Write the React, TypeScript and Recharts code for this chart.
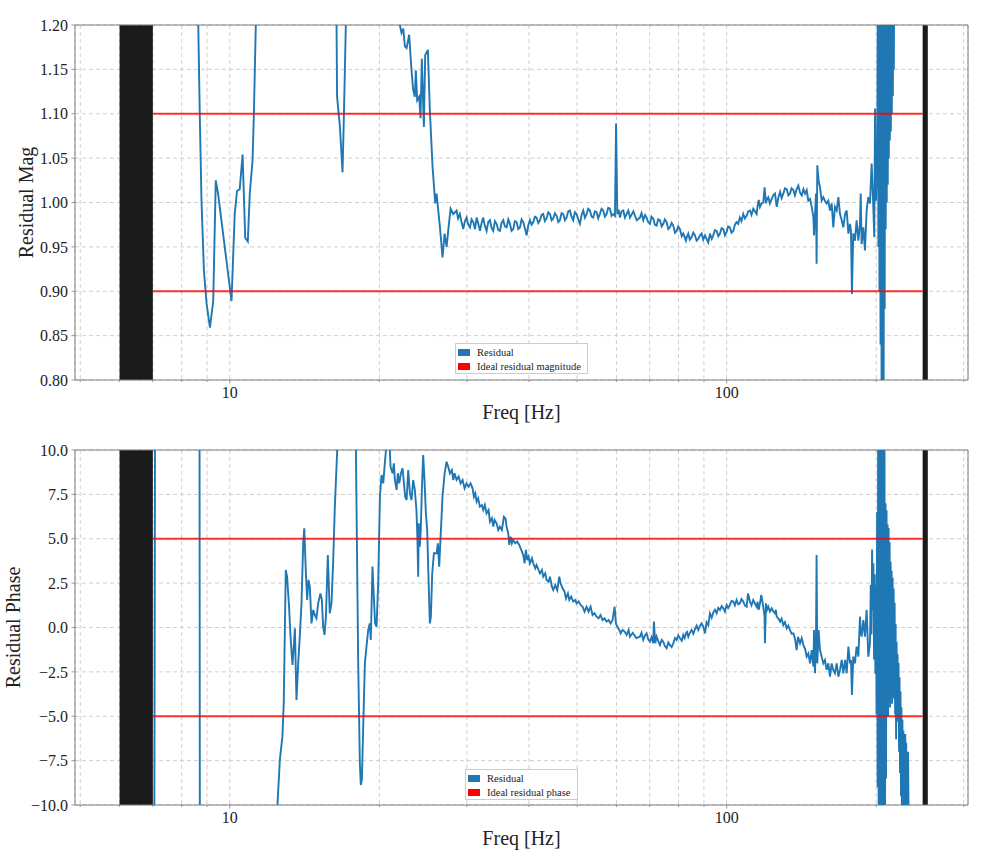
import React from 'react';
import { LineChart, Line, XAxis, YAxis, CartesianGrid, ReferenceLine, ReferenceArea } from 'recharts';

const FONT = '"Liberation Serif", "Times New Roman", serif';
const BLUE = '#1f77b4';
const GRAY = '#7f7f7f';

const freqTicks = [5, 6, 7, 8, 9, 10, 20, 30, 40, 50, 60, 70, 80, 90, 100, 200, 300];
const freqLabels = [10, 100];
const freqRange = [4.88, 306];
const magTicks = [0.8, 0.85, 0.9, 0.95, 1.0, 1.05, 1.1, 1.15, 1.2];
const phaseTicks = [-10, -7.5, -5, -2.5, 0, 2.5, 5, 7.5, 10];
const blankBands = [[6, 7], [248, 254]];
const limitSpan = [7, 248];
const magLimits = [0.9, 1.1];
const phaseLimits = [-5, 5];

// [freq Hz, residual magnitude]
const magLow = [
  [7.1, 1.9], [8.0, 1.7], [8.55, 1.35], [8.64, 1.2], [8.7, 1.1], [8.77, 1.002], [8.87, 0.923],
  [8.98, 0.886], [9.12, 0.859], [9.26, 0.889], [9.37, 1.025], [9.47, 1.01], [10.08, 0.889],
  [10.23, 0.987], [10.34, 1.013], [10.47, 1.015], [10.61, 1.054], [10.74, 0.96], [10.87, 0.956],
  [10.97, 1.01], [11.11, 1.047], [11.18, 1.1], [11.28, 1.2], [11.5, 1.45], [13.0, 1.8], [15.0, 1.6],
  [16.2, 1.35], [16.4, 1.2], [16.44, 1.119], [16.65, 1.087], [16.86, 1.034], [16.96, 1.093],
  [17.12, 1.2], [17.4, 1.4], [19.0, 1.6], [21.5, 1.3], [21.99, 1.2], [22.16, 1.191], [22.34, 1.196],
  [22.51, 1.176], [22.69, 1.174], [22.96, 1.189], [23.21, 1.149], [23.39, 1.127], [23.57, 1.119],
  [23.68, 1.149], [23.83, 1.115], [24.05, 1.119], [24.2, 1.095], [24.35, 1.162], [24.58, 1.085],
  [24.73, 1.166], [25.04, 1.172], [25.27, 1.104], [25.59, 1.04], [25.91, 0.999], [26.07, 1.01],
  [26.23, 0.995], [26.48, 0.972], [26.8, 0.938], [27.06, 0.965], [27.31, 0.95], [27.56, 0.972],
  [27.82, 0.993], [28.16, 0.987],
];

const magMid = [
  [28.6, 0.991], [28.8, 0.982], [29.04, 0.987], [29.27, 0.978], [29.5, 0.97], [29.73, 0.979],
  [29.96, 0.983], [30.2, 0.975], [30.43, 0.972], [30.66, 0.981], [30.9, 0.978], [31.15, 0.97],
  [31.39, 0.983], [31.63, 0.976], [31.88, 0.968], [32.12, 0.977], [32.36, 0.983], [32.6, 0.974],
  [32.87, 0.968], [33.13, 0.978], [33.39, 0.98], [33.65, 0.971], [33.9, 0.968], [34.17, 0.979],
  [34.43, 0.976], [34.7, 0.969], [34.97, 0.968], [35.24, 0.977], [35.51, 0.98], [35.78, 0.973],
  [36.06, 0.972], [36.35, 0.981], [36.63, 0.976], [36.9, 0.968], [37.19, 0.97], [37.48, 0.979],
  [37.78, 0.978], [38.07, 0.97], [38.37, 0.972], [38.66, 0.981], [38.96, 0.978], [39.26, 0.971],
  [39.57, 0.963], [39.87, 0.974], [40.18, 0.98], [40.5, 0.975], [40.81, 0.978], [41.12, 0.984],
  [41.44, 0.983], [41.76, 0.977], [42.09, 0.98], [42.41, 0.986], [42.74, 0.987], [43.07, 0.979],
  [43.4, 0.982], [43.74, 0.989], [44.09, 0.987], [44.43, 0.98], [44.77, 0.982], [45.12, 0.988],
  [45.47, 0.985], [45.82, 0.978], [46.17, 0.98], [46.53, 0.988], [46.89, 0.987], [47.25, 0.98],
  [47.62, 0.983], [47.99, 0.99], [48.36, 0.991], [48.73, 0.984], [49.11, 0.98], [49.5, 0.989],
  [49.88, 0.987], [50.27, 0.981], [50.66, 0.976], [51.05, 0.986], [51.44, 0.991], [51.84, 0.983],
  [52.25, 0.987], [52.65, 0.993], [53.06, 0.991], [53.47, 0.984], [53.88, 0.983], [54.3, 0.99],
  [54.72, 0.989], [55.14, 0.982], [55.57, 0.987], [56.0, 0.993], [56.44, 0.991], [56.88, 0.984],
  [57.32, 0.987], [57.76, 0.994], [58.21, 0.993], [58.67, 0.985], [59.14, 0.987], [59.59, 0.985],
  [59.9, 1.089], [60.23, 0.987], [60.6, 0.992], [60.99, 0.983], [61.45, 0.99], [61.94, 0.991],
  [62.4, 0.983], [62.9, 0.987], [63.4, 0.991], [63.88, 0.983], [64.9, 0.99], [65.9, 0.98],
];

const magHigh = [
  [66.9, 0.983], [67.4, 0.988], [67.94, 0.98], [68.5, 0.986], [69.0, 0.983], [69.5, 0.978],
  [70.07, 0.976], [70.6, 0.984], [71.16, 0.982], [71.7, 0.975], [72.28, 0.974], [72.8, 0.981],
  [73.4, 0.98], [74.0, 0.973], [74.55, 0.976], [75.1, 0.981], [75.71, 0.978], [76.3, 0.97],
  [76.89, 0.972], [77.5, 0.977], [78.08, 0.974], [78.7, 0.966], [79.3, 0.968], [79.9, 0.973],
  [80.53, 0.97], [81.2, 0.962], [81.79, 0.965], [82.3, 0.961], [82.79, 0.957], [83.2, 0.962],
  [83.7, 0.965], [84.3, 0.958], [85.0, 0.961], [85.7, 0.966], [86.33, 0.963], [87.0, 0.957],
  [87.67, 0.959], [88.4, 0.963], [89.05, 0.965], [89.7, 0.958], [90.44, 0.963], [91.1, 0.959],
  [91.83, 0.955], [92.2, 0.96], [92.54, 0.965], [93.3, 0.959], [93.97, 0.963], [94.7, 0.969],
  [95.45, 0.968], [96.2, 0.962], [96.94, 0.965], [97.7, 0.971], [98.45, 0.97], [99.2, 0.963],
  [99.98, 0.967], [100.7, 0.973], [101.5, 0.972], [102.3, 0.966], [103.1, 0.968], [103.9, 0.975],
  [104.7, 0.978], [105.5, 0.976], [106.3, 0.983], [107.1, 0.979], [108.0, 0.987], [108.8, 0.982],
  [109.7, 0.985], [110.5, 0.99], [111.4, 0.991], [112.2, 0.986], [113.1, 0.993], [114.0, 0.99],
  [114.9, 0.987], [115.4, 0.996], [116.0, 1.003], [116.7, 0.995], [117.6, 0.999], [118.5, 1.0],
  [119.2, 1.017], [120.0, 0.999], [120.6, 1.004], [121.3, 1.006], [122.2, 0.999], [123.2, 1.004],
  [124.1, 1.008], [125.1, 1.01], [126.1, 0.995], [127.1, 1.006], [128.1, 1.012], [129.0, 1.005],
  [130.0, 1.01], [131.0, 1.016], [132.1, 1.015], [133.1, 1.008], [134.1, 1.01], [135.1, 1.016],
  [136.2, 1.014], [137.2, 1.008], [138.3, 1.015], [139.4, 1.019], [140.5, 1.011], [141.6, 1.008],
  [142.7, 1.015], [143.8, 1.01], [144.9, 1.014], [146.0, 1.002], [147.2, 1.004], [148.3, 0.995],
  [149.5, 0.983], [149.9, 0.963], [150.6, 0.987], [151.3, 1.01], [151.7, 0.931], [152.2, 1.042],
  [153.1, 1.025], [154.1, 1.017], [155.3, 1.002], [156.5, 1.006], [157.7, 1.002], [158.9, 0.999],
  [160.2, 1.002], [161.4, 0.991], [162.7, 0.999], [163.9, 0.972], [165.2, 0.995], [166.5, 0.991],
  [167.8, 1.006], [169.1, 0.987], [170.4, 0.98], [171.7, 0.972], [173.1, 0.987], [174.4, 0.991],
  [175.8, 0.965], [177.1, 0.976], [177.9, 0.968], [178.7, 0.897], [179.8, 0.965], [181.2, 0.957],
  [182.6, 0.98], [184.1, 0.957], [185.5, 0.976], [186.1, 1.01], [186.9, 0.953], [188.4, 0.972],
  [189.8, 0.946], [191.3, 0.991], [192.8, 1.006], [194.3, 0.999], [195.8, 1.044], [197.3, 0.995],
  [198.2, 0.961], [198.9, 1.106], [199.8, 1.002], [201.0, 1.07],
];

const magBurst = [
  [201.5, 1.25], [202.0, 0.95], [202.5, 1.25], [203.0, 0.9], [203.5, 1.25], [204.0, 0.84],
  [204.5, 1.25], [205.0, 0.78], [205.5, 1.25], [206.0, 0.76], [206.5, 1.25], [207.0, 0.79],
  [207.5, 1.25], [208.0, 0.88], [208.5, 1.25], [209.0, 0.97], [209.5, 1.25], [210.0, 1.0],
  [210.5, 1.25], [211.0, 1.02], [211.5, 1.25], [212.0, 1.05], [212.5, 1.25], [213.0, 1.07],
  [213.5, 1.25], [214.0, 1.08], [214.5, 1.25], [215.0, 1.1], [215.5, 1.25], [216.0, 1.12],
  [216.5, 1.25], [217.0, 1.15], [217.5, 1.3], [225.0, 1.6], [236.0, 1.8],
];

// [freq Hz, residual phase]
const phaseLow = [
  [7.02, -40], [7.1, 40], [8.0, 30], [8.68, 30], [8.72, -40], [12.0, -30], [12.33, -12.5],
  [12.47, -10.0], [12.61, -7.46], [12.76, -6.15], [12.84, -4.27], [12.96, 3.24], [13.04, 2.86],
  [13.16, 1.17], [13.25, -0.52], [13.37, -2.11], [13.45, -1.08], [13.52, -0.05], [13.62, -4.08],
  [13.73, -2.02], [13.83, -0.52], [13.94, 1.36], [14.05, 4.74], [14.12, 5.59], [14.22, 3.24],
  [14.31, 1.55], [14.4, 2.68], [14.49, 2.3], [14.6, 0.23], [14.72, 0.99], [14.83, 0.7],
  [14.94, 0.52], [15.06, 1.36], [15.22, 1.92], [15.32, 1.55], [15.41, 0.05], [15.51, -0.42],
  [15.61, 0.61], [15.75, 4.08], [15.89, 0.8], [16.02, 1.36], [16.14, 3.62], [16.27, 6.81],
  [16.45, 10.0], [16.6, 14], [17.2, 16], [17.86, 12], [17.94, 10], [18.13, -2.02], [18.27, -7.65],
  [18.35, -8.87], [18.44, -8.59], [18.55, -5.77], [18.7, -2.02], [18.84, -1.08], [18.99, -0.14],
  [19.13, 0.23], [19.22, -0.7], [19.37, 3.43], [19.49, 1.74], [19.61, 0.23], [19.74, 0.05],
  [19.89, 2.49], [20.05, 7.37], [20.2, 8.59], [20.36, 8.12], [20.51, 9.25], [20.67, 10.3],
  [20.83, 10.6], [20.99, 10.0],
];

const phaseMid = [
  [21.06, 9.06], [21.26, 8.69], [21.39, 9.25], [21.49, 8.31], [21.66, 7.75], [21.79, 8.69],
  [21.93, 8.12], [22.1, 8.69], [22.27, 8.97], [22.41, 8.12], [22.54, 7.37], [22.69, 7.18],
  [22.86, 8.87], [23.04, 7.56], [23.21, 7.18], [23.39, 8.31], [23.57, 7.75], [23.75, 6.62],
  [23.86, 4.93], [23.94, 2.86], [24.01, 5.87], [24.12, 4.55], [24.23, 5.49], [24.35, 7.75],
  [24.5, 9.72], [24.65, 8.31], [24.81, 6.43], [24.96, 5.49], [25.12, 2.68], [25.27, 0.23],
  [25.39, 0.61], [25.55, 3.05], [25.75, 4.18], [26.07, 4.18], [26.23, 4.74], [26.39, 3.43],
  [26.56, 5.12], [26.8, 7.37], [27.06, 8.69], [27.31, 9.34], [27.52, 9.06], [27.73, 8.69],
  [27.99, 8.87], [28.16, 8.31], [28.34, 8.69], [28.6, 8.31], [28.87, 8.5], [29.14, 8.12],
  [29.41, 8.31], [29.68, 7.84], [29.96, 8.12], [30.24, 7.93], [30.52, 8.12], [30.8, 7.84],
  [30.99, 7.37], [31.19, 7.56], [31.39, 7.09], [31.61, 7.28], [31.86, 6.81], [32.16, 6.9],
  [32.36, 6.62], [32.61, 6.9], [32.86, 6.43], [33.17, 6.62], [33.39, 5.96], [33.69, 6.15],
  [33.9, 5.68], [34.11, 6.06], [34.43, 5.87], [34.7, 5.49], [34.97, 5.68], [35.29, 5.49],
  [35.62, 6.24], [35.89, 6.15], [36.06, 5.68], [36.34, 5.31], [36.51, 4.65], [36.74, 5.12],
  [36.96, 4.74], [37.19, 4.93], [37.54, 4.74], [37.89, 4.84], [38.24, 4.65], [38.6, 4.37],
  [38.96, 4.08], [39.2, 3.62], [39.44, 4.37], [39.69, 3.8], [39.93, 3.99], [40.18, 3.62],
  [40.55, 3.9], [40.81, 3.62], [41.19, 3.33], [41.44, 3.52], [41.83, 3.24], [42.09, 3.05],
  [42.48, 3.24], [42.74, 2.86], [43.14, 3.05], [43.4, 2.68], [43.81, 2.58], [44.09, 2.86],
  [44.49, 2.3], [44.77, 2.11], [45.19, 2.39], [45.6, 2.11], [46.03, 2.86], [46.31, 2.49],
  [46.75, 2.21], [47.18, 2.02], [47.48, 1.64], [47.92, 1.92], [48.22, 1.55], [48.66, 1.74],
  [49.11, 1.46], [49.58, 1.55], [49.88, 1.36], [50.35, 1.46], [50.82, 1.27], [51.29, 1.17],
  [51.76, 0.89], [52.25, 1.17], [52.73, 0.89], [53.22, 1.17], [53.72, 0.7], [54.22, 0.8],
  [54.72, 0.61], [55.23, 0.52], [55.74, 0.7], [56.27, 0.42], [56.79, 0.52], [57.32, 0.33],
  [57.86, 0.42], [58.39, 0.23], [58.94, 0.42], [59.49, 1.17], [59.86, 0.23], [60.23, 0.05],
  [60.8, -0.14], [61.17, -0.33], [61.75, -0.14], [62.32, -0.23], [62.9, -0.42], [63.48, -0.14],
  [63.88, -0.52], [64.7, -0.3], [65.8, -0.6],
];

const phaseHigh = [
  [66.9, -0.52], [67.4, -0.3], [67.94, -0.7], [68.5, -0.45], [69.0, -0.33], [69.5, -0.65],
  [70.07, -0.8], [70.6, -0.55], [71.16, -0.89], [71.38, 0.33], [71.82, -0.89], [72.28, -0.52],
  [72.8, -0.75], [73.4, -0.99], [74.0, -0.7], [74.55, -0.8], [75.1, -1.05], [75.71, -1.17],
  [76.3, -0.85], [76.89, -0.99], [77.5, -1.1], [78.08, -0.89], [78.7, -0.6], [79.3, -0.7],
  [79.9, -0.45], [80.53, -0.61], [81.2, -0.75], [81.79, -0.42], [82.3, -0.6], [82.79, -0.33],
  [83.2, -0.25], [83.7, -0.52], [84.3, -0.3], [85.0, -0.14], [85.7, -0.35], [86.33, -0.1],
  [87.0, 0.1], [87.67, -0.14], [88.4, 0.1], [89.05, 0.23], [89.7, 0.05], [90.44, -0.33],
  [91.1, 0.3], [91.83, 0.14], [92.54, 0.8], [93.3, 0.55], [93.97, 0.84], [94.7, 1.0],
  [95.45, 0.8], [96.2, 1.1], [96.94, 0.99], [97.7, 1.2], [98.45, 1.08], [99.2, 0.9],
  [99.98, 1.27], [100.7, 1.1], [101.5, 1.27], [102.3, 1.5], [103.1, 1.46], [103.9, 1.25],
  [104.7, 1.55], [105.5, 1.3], [106.3, 1.36], [107.1, 1.6], [108.0, 1.46], [108.8, 1.25],
  [109.7, 1.17], [110.4, 1.92], [111.4, 1.46], [112.2, 1.25], [113.1, 1.55], [114.0, 1.35],
  [114.9, 1.17], [115.4, 1.45], [116.0, 0.99], [116.7, 1.36], [117.4, 1.83], [118.5, 1.17],
  [119.2, 0.61], [119.4, -0.89], [120.0, 1.36], [120.6, 1.0], [121.3, 1.17], [122.2, 0.9],
  [123.2, 1.08], [124.1, 0.9], [125.1, 0.8], [125.6, 1.0], [126.1, 0.61], [127.1, 0.5],
  [128.1, 0.33], [129.0, 0.5], [130.0, 0.14], [131.0, 0.3], [132.1, -0.05], [133.1, 0.1],
  [134.1, -0.14], [135.1, -0.35], [136.2, -0.33], [137.2, -0.6], [138.3, -1.27], [139.2, -0.52],
  [140.5, -0.89], [141.6, -0.6], [142.7, -0.99], [143.8, -1.2], [144.9, -1.64], [146.0, -1.46],
  [147.2, -2.02], [148.3, -1.27], [149.5, -2.21], [149.9, -0.14], [150.6, -2.58], [151.3, -0.52],
  [151.7, 4.08], [152.2, -2.02], [153.1, -0.14], [154.1, -1.27], [155.3, -1.64], [156.5, -2.02],
  [157.7, -1.83], [158.9, -2.39], [160.2, -2.02], [161.4, -2.77], [162.7, -2.02], [163.9, -2.39],
  [165.2, -2.58], [166.5, -2.02], [167.8, -2.77], [169.1, -2.39], [170.4, -1.83], [171.7, -2.58],
  [173.1, -1.83], [174.4, -2.58], [175.8, -1.08], [177.1, -2.02], [177.9, -1.83], [178.7, -3.8],
  [179.8, -1.64], [181.2, -2.02], [182.6, -1.08], [184.1, -1.64], [185.5, 0.61], [186.1, -0.14],
  [186.9, -0.52], [188.4, 0.42], [189.8, -0.52], [191.3, 0.99], [192.8, -1.64], [194.3, -0.89],
];

const phaseBurst = [
  [195.0, 2.4], [195.6, -0.4], [196.2, 4.4], [196.8, 1.0], [197.4, 3.6], [198.0, -1.8],
  [198.6, 3.0], [199.2, -2.6], [199.8, 2.4], [200.3, -4.9], [200.8, 6.5], [201.3, -9.0],
  [201.8, 12], [202.3, -12], [202.8, 12], [203.3, -12], [203.8, 12], [204.3, -12], [204.8, 12],
  [205.3, -12], [205.8, 12], [206.3, -12], [206.8, 12], [207.3, -12], [207.8, 11], [208.3, -12],
  [208.8, 7.0], [209.3, -8.5], [209.8, 6.6], [210.3, -3.0], [210.8, 5.8], [211.3, -5.0],
  [211.8, 5.6], [212.3, -4.0], [212.8, 4.8], [213.3, -4.5], [213.8, 3.7], [214.3, -3.2],
  [214.8, 3.2], [215.3, -4.3], [215.8, 2.8], [216.3, -3.8], [216.8, 2.2], [217.3, -4.0],
  [217.8, 1.4], [218.3, -4.9], [218.8, 0.2], [219.3, -6.3], [219.8, -0.8], [220.3, -4.6],
  [220.8, -1.5], [221.3, -5.3], [221.8, -2.0], [222.3, -7.0], [222.8, -2.8], [223.3, -8.2],
  [223.8, -3.6], [224.3, -9.5], [224.8, -4.5], [225.3, -11], [225.8, -5.2], [226.3, -12],
  [226.8, -5.8], [227.3, -12], [227.8, -6.1], [228.3, -12], [228.8, -6.0], [229.3, -12],
  [229.8, -6.5], [230.3, -12], [230.8, -7.2], [231.3, -12], [231.8, -7.0], [232.5, -12],
  [233.2, -10.5], [234.0, -14],
];

const toRows = (pts: number[][]) => pts.map(([f, v]) => ({ f, v }));
const magRows = toRows([...magLow, ...magMid, ...magHigh, ...magBurst]);
const phaseRows = toRows([...phaseLow, ...phaseMid, ...phaseHigh, ...phaseBurst]);

const FreqTick = (props: any) => {
  const { x, y, payload } = props;
  const major = freqLabels.includes(payload.value);
  return (
    <g>
      <line x1={x} x2={x} y1={y} y2={y + (major ? 3.5 : 2)} stroke={GRAY} strokeWidth={0.8} />
      {major && (
        <text x={x} y={y + 18} textAnchor="middle" fontSize={16} fontFamily={FONT} fill="#222">
          {payload.value}
        </text>
      )}
    </g>
  );
};

const fmtMag = (v: number) => v.toFixed(2);
const fmtPhase = (v: number) => (v < 0 ? '\u2212' : '') + Math.abs(v).toFixed(1);

function Key({ left, top, width, label }: { left: number; top: number; width: number; label: string }) {
  return (
    <div
      style={{
        position: 'absolute', left, top, width, height: 31, boxSizing: 'border-box',
        border: '1px solid #cccccc', background: 'rgba(255,255,255,0.85)',
        fontFamily: FONT, fontSize: 10.5, color: '#222', padding: '1px 0 0 2px',
      }}
    >
      {[['Residual', BLUE], [label, '#ff0000']].map(([t, c]) => (
        <div key={t} style={{ display: 'flex', alignItems: 'center', height: 14 }}>
          <span style={{ width: 12, height: 7, background: c, marginRight: 7, flex: 'none' }} />
          <span style={{ whiteSpace: 'nowrap' }}>{t}</span>
        </div>
      ))}
    </div>
  );
}

type PanelProps = {
  rows: { f: number; v: number }[];
  height: number;
  marginTop: number;
  xAxisHeight: number;
  xLabelOffset: number;
  yDomain: number[];
  yTicks: number[];
  fmt: (v: number) => string;
  yLabel: string;
  yLabelOffset: number;
  limits: number[];
};

function Panel(p: PanelProps) {
  const [y0, y1] = p.yDomain;
  return (
    <LineChart width={982} height={p.height} margin={{ top: p.marginTop, right: 14, bottom: 0, left: 15 }}>
      <CartesianGrid stroke="#cfcfcf" strokeDasharray="4 3" />
      <XAxis
        dataKey="f"
        type="number"
        scale="log"
        domain={freqRange}
        allowDataOverflow
        ticks={freqTicks}
        interval={0}
        tick={<FreqTick />}
        tickLine={false}
        tickSize={0}
        tickMargin={0}
        axisLine={false}
        height={p.xAxisHeight}
        label={{ value: 'Freq [Hz]', position: 'insideBottom', offset: p.xLabelOffset, fontSize: 20, fontFamily: FONT, fill: '#222' }}
      />
      <YAxis
        type="number"
        domain={p.yDomain}
        allowDataOverflow
        ticks={p.yTicks}
        interval={0}
        tickFormatter={p.fmt}
        width={60}
        axisLine={false}
        tickSize={3.5}
        tickMargin={3.5}
        tickLine={{ stroke: GRAY, strokeWidth: 0.8 }}
        tick={{ fontSize: 16, fontFamily: FONT, fill: '#222' }}
        label={{ value: p.yLabel, angle: -90, position: 'insideLeft', offset: p.yLabelOffset, fontSize: 20, fontFamily: FONT, fill: '#222', style: { textAnchor: 'middle' } }}
      />
      {blankBands.map(([a, b]) => (
        <ReferenceArea key={a} x1={a} x2={b} y1={y0} y2={y1} fill="#1a1a1a" fillOpacity={1} stroke="none" />
      ))}
      <Line data={p.rows} dataKey="v" type="linear" stroke={BLUE} strokeWidth={1.9} dot={false} isAnimationActive={false} />
      {p.limits.map((l) => (
        <ReferenceLine
          key={l}
          segment={[{ x: limitSpan[0], y: l }, { x: limitSpan[1], y: l }]}
          stroke="#ff0000"
          strokeOpacity={0.8}
          strokeWidth={2}
        />
      ))}
      <ReferenceArea x1={freqRange[0]} x2={freqRange[1]} y1={y0} y2={y1} fill="none" stroke={GRAY} strokeWidth={1} ifOverflow="visible" />
    </LineChart>
  );
}

export default function App() {
  return (
    <div style={{ position: 'absolute', left: 0, top: 0, width: 982, height: 858, background: '#fff' }}>
      <div style={{ position: 'absolute', left: 0, top: 0 }}>
        <Panel
          rows={magRows}
          height={430}
          marginTop={25}
          xAxisHeight={50}
          xLabelOffset={11}
          yDomain={[0.8, 1.2]}
          yTicks={magTicks}
          fmt={fmtMag}
          yLabel="Residual Mag"
          yLabelOffset={11}
          limits={magLimits}
        />
      </div>
      <div style={{ position: 'absolute', left: 0, top: 430 }}>
        <Panel
          rows={phaseRows}
          height={428}
          marginTop={20}
          xAxisHeight={53}
          xLabelOffset={13}
          yDomain={[-10, 10]}
          yTicks={phaseTicks}
          fmt={fmtPhase}
          yLabel="Residual Phase"
          yLabelOffset={-2.5}
          limits={phaseLimits}
        />
      </div>
      <Key left={455} top={343} width={133} label="Ideal residual magnitude" />
      <Key left={465} top={769} width={113} label="Ideal residual phase" />
    </div>
  );
}
